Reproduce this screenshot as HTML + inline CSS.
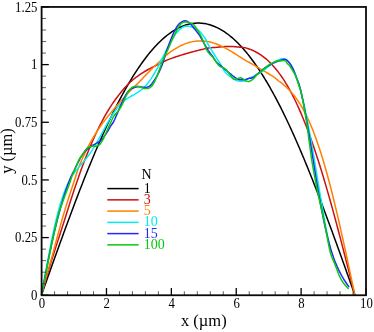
<!DOCTYPE html>
<html><head><meta charset="utf-8"><style>
html,body{margin:0;padding:0;background:#fff;}
svg{display:block;will-change:transform;}
text{font-family:"Liberation Serif",serif;}
</style></head><body>
<svg width="374" height="332" viewBox="0 0 374 332">
<rect width="374" height="332" fill="#fff"/>
<clipPath id="c"><rect x="41.60" y="6.95" width="324.40" height="288.30"/></clipPath>
<g><path d="M41.60 294.70L42.90 291.02L44.21 287.35L45.51 283.67L46.82 280.00L48.12 276.33L49.43 272.67L50.73 269.01L52.04 265.35L53.34 261.70L54.65 258.06L55.95 254.43L57.26 250.80L58.56 247.18L59.87 243.57L61.17 239.98L62.48 236.39L63.78 232.81L65.09 229.25L66.39 225.70L67.70 222.17L69.00 218.65L70.30 215.14L71.61 211.65L72.91 208.18L74.22 204.73L75.52 201.29L76.83 197.87L78.13 194.47L79.44 191.10L80.74 187.74L82.05 184.40L83.35 181.09L84.66 177.79L85.96 174.52L87.27 171.28L88.57 168.06L89.88 164.86L91.18 161.69L92.49 158.54L93.79 155.42L95.10 152.33L96.40 149.27L97.70 146.23L99.01 143.22L100.31 140.24L101.62 137.30L102.92 134.38L104.23 131.49L105.53 128.63L106.84 125.80L108.14 123.01L109.45 120.25L110.75 117.52L112.06 114.82L113.36 112.16L114.67 109.53L115.97 106.94L117.28 104.38L118.58 101.85L119.89 99.36L121.19 96.91L122.50 94.49L123.80 92.11L125.10 89.76L126.41 87.46L127.71 85.19L129.02 82.95L130.32 80.76L131.63 78.60L132.93 76.48L134.24 74.40L135.54 72.36L136.85 70.36L138.15 68.40L139.46 66.47L140.76 64.59L142.07 62.75L143.37 60.94L144.68 59.18L145.98 57.46L147.29 55.77L148.59 54.13L149.90 52.53L151.20 50.97L152.50 49.46L153.81 47.98L155.11 46.54L156.42 45.15L157.72 43.80L159.03 42.49L160.33 41.22L161.64 40.00L162.94 38.81L164.25 37.67L165.55 36.57L166.86 35.52L168.16 34.50L169.47 33.53L170.77 32.60L172.08 31.72L173.38 30.88L174.69 30.08L175.99 29.32L177.30 28.60L178.60 27.93L179.90 27.31L181.21 26.72L182.51 26.18L183.82 25.68L185.12 25.23L186.43 24.81L187.73 24.45L189.04 24.12L190.34 23.84L191.65 23.60L192.95 23.41L194.26 23.25L195.56 23.15L196.87 23.08L198.17 23.06L199.48 23.08L200.78 23.15L202.09 23.25L203.39 23.41L204.70 23.60L206.00 23.84L207.30 24.12L208.61 24.45L209.91 24.81L211.22 25.23L212.52 25.68L213.83 26.18L215.13 26.72L216.44 27.31L217.74 27.93L219.05 28.60L220.35 29.32L221.66 30.08L222.96 30.88L224.27 31.72L225.57 32.60L226.88 33.53L228.18 34.50L229.49 35.52L230.79 36.57L232.10 37.67L233.40 38.81L234.70 40.00L236.01 41.22L237.31 42.49L238.62 43.80L239.92 45.15L241.23 46.54L242.53 47.98L243.84 49.46L245.14 50.97L246.45 52.53L247.75 54.13L249.06 55.77L250.36 57.46L251.67 59.18L252.97 60.94L254.28 62.75L255.58 64.59L256.89 66.47L258.19 68.40L259.49 70.36L260.80 72.36L262.10 74.40L263.41 76.48L264.71 78.60L266.02 80.76L267.32 82.95L268.63 85.19L269.93 87.46L271.24 89.76L272.54 92.11L273.85 94.49L275.15 96.91L276.46 99.36L277.76 101.85L279.07 104.38L280.37 106.94L281.68 109.53L282.98 112.16L284.29 114.82L285.59 117.52L286.89 120.25L288.20 123.01L289.50 125.80L290.81 128.63L292.11 131.49L293.42 134.38L294.72 137.30L296.03 140.24L297.33 143.22L298.64 146.23L299.94 149.27L301.25 152.33L302.55 155.42L303.86 158.54L305.16 161.69L306.47 164.86L307.77 168.06L309.08 171.28L310.38 174.52L311.69 177.79L312.99 181.09L314.29 184.40L315.60 187.74L316.90 191.10L318.21 194.47L319.51 197.87L320.82 201.29L322.12 204.73L323.43 208.18L324.73 211.65L326.04 215.14L327.34 218.65L328.65 222.17L329.95 225.70L331.26 229.25L332.56 232.81L333.87 236.39L335.17 239.98L336.48 243.57L337.78 247.18L339.09 250.80L340.39 254.43L341.69 258.06L343.00 261.70L344.30 265.35L345.61 269.01L346.91 272.67L348.22 276.33L349.52 280.00L350.83 283.67L352.13 287.35L353.44 291.02L354.74 294.70" fill="none" stroke="#000000" stroke-width="1.5" stroke-linejoin="round" stroke-linecap="round"/><path d="M41.60 294.70L42.90 290.02L44.21 285.34L45.53 280.67L46.88 276.01L48.26 271.36L49.66 266.72L51.08 262.11L52.51 257.51L53.96 252.93L55.41 248.38L56.86 243.86L58.31 239.38L59.75 234.92L61.18 230.50L62.59 226.12L63.98 221.79L65.34 217.49L66.68 213.24L67.99 209.04L69.30 204.89L70.60 200.79L71.90 196.75L73.21 192.76L74.51 188.83L75.82 184.96L77.12 181.15L78.43 177.40L79.73 173.72L81.04 170.09L82.34 166.54L83.65 163.05L84.95 159.63L86.26 156.28L87.56 153.00L88.87 149.78L90.17 146.64L91.48 143.57L92.78 140.56L94.09 137.63L95.39 134.77L96.70 131.98L98.00 129.26L99.30 126.61L100.61 124.03L101.91 121.53L103.22 119.09L104.52 116.71L105.83 114.41L107.13 112.18L108.44 110.01L109.74 107.90L111.05 105.86L112.35 103.89L113.62 102.02L114.87 100.24L116.10 98.54L117.30 96.93L118.48 95.39L119.65 93.91L120.81 92.47L121.97 91.07L123.13 89.69L124.29 88.33L125.46 86.99L126.65 85.68L127.86 84.41L129.09 83.19L130.35 82.01L131.63 80.88L132.93 79.78L134.24 78.73L135.54 77.71L136.85 76.73L138.15 75.78L139.46 74.86L140.76 73.98L142.07 73.12L143.37 72.30L144.68 71.50L145.98 70.73L147.29 69.99L148.59 69.27L149.90 68.57L151.20 67.89L152.50 67.23L153.81 66.59L155.11 65.97L156.42 65.35L157.72 64.70L159.03 64.04L160.33 63.37L161.64 62.70L162.94 62.03L164.25 61.38L165.55 60.75L166.86 60.16L168.16 59.60L169.47 59.09L170.77 58.62L172.08 58.16L173.38 57.71L174.69 57.26L175.99 56.83L177.30 56.40L178.60 55.97L179.90 55.55L181.21 55.14L182.51 54.74L183.82 54.34L185.12 53.95L186.43 53.56L187.73 53.18L189.04 52.81L190.34 52.44L191.65 52.07L192.95 51.72L194.26 51.37L195.56 51.02L196.87 50.69L198.17 50.36L199.48 50.03L200.78 49.72L202.09 49.41L203.39 49.11L204.70 48.82L206.00 48.54L207.30 48.27L208.61 48.02L209.91 47.82L211.22 47.69L212.52 47.59L213.83 47.52L215.13 47.45L216.44 47.35L217.74 47.22L219.05 47.06L220.35 46.92L221.66 46.79L222.96 46.68L224.27 46.59L225.57 46.52L226.88 46.47L228.18 46.44L229.49 46.43L230.79 46.45L232.10 46.48L233.40 46.55L234.70 46.63L236.01 46.75L237.31 46.89L238.62 47.06L239.92 47.20L241.23 47.33L242.53 47.47L243.84 47.62L245.14 47.83L246.45 48.11L247.75 48.48L249.06 48.93L250.36 49.41L251.67 49.94L252.97 50.52L254.28 51.13L255.58 51.79L256.89 52.50L258.19 53.26L259.49 54.07L260.80 54.93L262.10 55.84L263.41 56.80L264.71 57.82L266.02 58.90L267.32 60.04L268.63 61.23L269.93 62.49L271.24 63.81L272.54 65.19L273.85 66.64L275.15 68.15L276.46 69.73L277.76 71.38L279.07 73.10L280.37 74.89L281.68 76.75L282.98 78.68L284.29 80.69L285.59 82.78L286.89 84.94L288.20 87.17L289.50 89.49L290.81 91.88L292.11 94.35L293.42 96.90L294.72 99.53L296.03 102.23L297.33 105.02L298.64 107.89L299.94 110.84L301.25 113.87L302.55 116.99L303.86 120.18L305.16 123.45L306.47 126.80L307.77 130.23L309.08 133.74L310.38 137.33L311.69 140.99L312.99 144.74L314.29 148.55L315.60 152.45L316.90 156.41L318.21 160.45L319.51 164.56L320.82 168.73L322.12 172.98L323.43 177.29L324.73 181.67L326.04 186.10L327.34 190.60L328.65 195.16L329.95 199.77L331.26 204.44L332.56 209.16L333.87 213.92L335.17 218.74L336.48 223.60L337.78 228.50L339.09 233.44L340.39 238.41L341.69 243.42L343.00 248.46L344.30 253.53L345.61 258.62L346.91 263.73L348.22 268.87L349.52 274.01L350.83 279.17L352.13 284.34L353.44 289.52L354.74 294.70" fill="none" stroke="#cc1010" stroke-width="1.5" stroke-linejoin="round" stroke-linecap="round"/><path d="M41.60 294.70L42.90 289.43L44.21 284.16L45.58 278.90L47.04 273.67L48.56 268.47L50.09 263.30L51.58 258.17L53.01 253.09L54.34 248.06L55.65 243.09L56.95 238.19L58.26 233.35L59.56 228.59L60.87 223.92L62.17 219.32L63.48 214.82L64.78 210.40L66.09 206.08L67.39 201.86L68.70 197.74L70.00 193.72L71.30 189.81L72.60 186.00L73.81 182.29L74.94 178.69L76.02 175.20L77.10 171.81L78.24 168.53L79.45 165.35L80.74 162.27L82.05 159.29L83.35 156.41L84.66 153.63L85.96 150.94L87.27 148.34L88.57 145.82L89.88 143.39L91.18 141.04L92.49 138.77L93.79 136.57L95.10 134.43L96.40 132.37L97.70 130.36L99.01 128.42L100.31 126.53L101.62 124.68L102.92 122.89L104.23 121.13L105.53 119.42L106.84 117.74L108.14 116.10L109.45 114.48L110.75 112.89L112.06 111.32L113.36 109.78L114.67 108.25L115.97 106.74L117.28 105.24L118.58 103.75L119.89 102.28L121.19 100.81L122.50 99.35L123.80 97.89L125.10 96.44L126.41 95.00L127.71 93.56L129.02 92.12L130.32 90.69L131.63 89.32L132.93 88.03L134.24 86.79L135.54 85.57L136.85 84.35L138.15 83.09L139.46 81.76L140.76 80.37L142.07 78.98L143.37 77.60L144.68 76.23L145.98 74.87L147.29 73.53L148.59 72.19L149.90 70.88L151.20 69.57L152.50 68.29L153.81 67.02L155.11 65.77L156.42 64.54L157.72 63.33L159.03 62.15L160.33 60.99L161.64 59.79L162.94 58.55L164.25 57.28L165.55 56.03L166.86 54.82L168.16 53.68L169.47 52.64L170.77 51.71L172.08 50.81L173.38 49.95L174.69 49.12L175.99 48.33L177.30 47.58L178.60 46.86L179.90 46.18L181.21 45.54L182.51 44.94L183.82 44.38L185.12 43.86L186.43 43.38L187.73 42.94L189.04 42.54L190.34 42.19L191.65 41.88L192.95 41.61L194.26 41.38L195.56 41.20L196.87 41.06L198.17 40.96L199.48 40.91L200.78 40.90L202.09 40.93L203.39 41.01L204.70 41.13L206.00 41.29L207.30 41.49L208.61 41.74L209.91 42.02L211.22 42.34L212.52 42.71L213.83 43.11L215.13 43.54L216.44 44.02L217.74 44.52L219.05 45.06L220.35 45.64L221.66 46.24L222.96 46.87L224.27 47.53L225.57 48.21L226.88 48.92L228.18 49.64L229.49 50.39L230.79 51.16L232.10 51.94L233.40 52.74L234.70 53.54L236.01 54.36L237.31 55.19L238.62 56.02L239.92 56.86L241.23 57.70L242.53 58.55L243.84 59.39L245.19 60.23L246.65 61.07L248.20 61.90L249.77 62.73L251.32 63.56L252.80 64.38L254.17 65.19L255.48 65.99L256.78 66.79L258.09 67.58L259.39 68.36L260.69 69.14L262.00 69.91L263.30 70.68L264.61 71.45L265.91 72.21L267.22 72.98L268.52 73.75L269.83 74.52L271.13 75.30L272.44 76.09L273.66 76.89L274.77 77.71L275.82 78.55L276.86 79.42L277.94 80.31L279.10 81.23L280.37 82.19L281.68 83.19L282.98 84.23L284.29 85.32L285.59 86.46L286.89 87.66L288.20 88.92L289.50 90.25L290.81 91.65L292.11 93.13L293.42 94.69L294.72 96.33L296.03 98.07L297.33 99.90L298.64 101.83L299.94 103.86L301.25 106.00L302.55 108.24L303.86 110.61L305.16 113.09L306.47 115.69L307.77 118.41L309.08 121.26L310.38 124.24L311.69 127.35L312.99 130.59L314.29 133.96L315.60 137.46L316.90 141.10L318.21 144.88L319.51 148.79L320.82 152.83L322.12 157.01L323.43 161.31L324.73 165.75L326.04 170.32L327.34 175.01L328.65 179.82L329.95 184.75L331.26 189.80L332.56 194.96L333.87 200.23L335.17 205.60L336.48 211.07L337.78 216.64L339.09 222.29L340.39 228.02L341.69 233.83L343.00 239.72L344.30 245.66L345.61 251.66L346.91 257.72L348.22 263.81L349.52 269.95L350.83 276.11L352.13 282.29L353.44 288.49L354.74 294.70" fill="none" stroke="#ff8000" stroke-width="1.5" stroke-linejoin="round" stroke-linecap="round"/><path d="M41.60 294.70L42.81 287.84L44.01 281.01L45.22 274.24L46.42 267.56L47.63 260.99L48.84 254.56L50.04 248.29L51.25 242.21L52.45 236.34L53.66 230.69L54.86 225.29L56.07 220.13L57.28 215.24L58.48 210.61L59.69 206.26L60.89 202.18L62.10 198.38L63.30 194.83L64.51 191.55L65.72 188.52L66.92 185.72L68.13 183.14L69.33 180.77L70.54 178.59L71.75 176.58L72.95 174.72L74.16 172.99L75.36 171.36L76.57 169.83L77.78 168.36L78.98 166.94L80.19 165.55L81.39 164.17L82.60 162.78L83.80 161.38L85.01 159.93L86.22 158.45L87.42 156.90L88.63 155.30L89.83 153.63L91.04 151.88L92.25 150.06L93.45 148.17L94.66 146.21L95.86 144.19L97.07 142.11L98.27 139.97L99.48 137.79L100.69 135.59L101.89 133.36L103.10 131.12L104.30 128.88L105.51 126.65L106.72 124.46L107.92 122.30L109.13 120.18L110.33 118.13L111.54 116.15L112.74 114.25L113.95 112.43L115.16 110.70L116.36 109.07L117.57 107.53L118.77 106.10L119.98 104.76L121.19 103.52L122.39 102.38L123.60 101.32L124.80 100.35L126.01 99.45L127.21 98.62L128.42 97.84L129.63 97.11L130.83 96.41L132.04 95.73L133.24 95.06L134.45 94.38L135.66 93.69L136.86 92.96L138.07 92.20L139.27 91.37L140.48 90.49L141.68 89.52L142.89 88.48L144.10 87.34L145.30 86.10L146.51 84.76L147.71 83.32L148.92 81.77L150.12 80.10L151.33 78.34L152.54 76.46L153.74 74.49L154.95 72.43L156.15 70.28L157.36 68.05L158.57 65.76L159.77 63.41L160.98 61.03L162.18 58.61L163.39 56.18L164.59 53.75L165.80 51.34L167.01 48.95L168.21 46.62L169.42 44.34L170.62 42.15L171.83 40.04L173.04 38.05L174.24 36.17L175.45 34.42L176.65 32.82L177.86 31.37L179.06 30.09L180.27 28.97L181.48 28.04L182.68 27.28L183.89 26.72L185.09 26.34L186.30 26.15L187.52 26.15L188.95 26.34L190.79 26.71L192.82 27.26L194.70 27.98L196.36 28.87L197.94 29.91L199.38 31.09L200.65 32.41L201.86 33.86L203.06 35.41L204.27 37.07L205.45 38.81L206.37 40.62L207.17 42.50L208.11 44.42L209.30 46.37L210.50 48.35L211.71 50.33L212.92 52.30L214.12 54.26L215.33 56.19L216.53 58.09L217.74 59.94L218.95 61.73L220.13 63.45L221.15 65.11L222.03 66.69L222.80 68.18L223.54 69.59L224.30 70.91L225.15 72.14L226.14 73.27L227.30 74.31L228.50 75.25L229.71 76.10L230.92 76.85L232.12 77.51L233.33 78.10L234.53 79.04L235.74 80.11L236.94 80.75L238.15 80.98L239.36 81.12L240.56 81.19L241.77 81.19L242.97 81.11L244.18 80.96L245.39 80.72L246.59 79.96L247.80 78.95L249.00 78.24L250.21 77.78L251.41 77.27L252.62 76.70L253.83 76.08L255.03 75.40L256.24 74.68L257.44 74.01L258.65 73.42L259.86 72.83L261.06 72.19L262.27 71.42L263.47 70.50L264.68 69.54L265.88 68.56L267.09 67.57L268.30 66.59L269.50 65.62L270.71 64.68L271.91 63.77L273.12 62.91L274.33 62.11L275.53 61.39L276.74 60.76L277.94 60.19L279.15 59.62L280.36 59.11L281.56 58.75L282.77 58.64L283.97 58.84L285.18 59.33L286.38 60.05L287.59 61.02L288.80 62.25L290.00 63.76L291.21 65.56L292.41 67.66L293.62 70.08L294.82 72.82L296.03 75.90L297.24 79.30L298.44 83.04L299.65 87.12L300.85 91.53L302.06 96.26L303.27 101.32L304.47 106.68L305.68 112.33L306.88 118.26L308.09 124.44L309.30 130.86L310.50 137.48L311.71 144.30L312.91 151.26L314.12 158.35L315.32 165.54L316.53 172.78L317.74 180.05L318.94 187.31L320.15 194.53L321.35 201.67L322.56 208.71L323.76 215.59L324.97 222.31L326.18 228.81L327.38 235.08L328.59 241.09L329.79 246.82L331.00 252.24" fill="none" stroke="#00eef4" stroke-width="1.5" stroke-linejoin="round" stroke-linecap="round"/><path d="M41.60 294.70L42.88 287.99L44.16 281.32L45.44 274.70L46.72 268.16L48.00 261.73L49.28 255.43L50.56 249.28L51.84 243.29L53.12 237.49L54.40 231.87L55.68 226.46L56.96 221.25L58.24 216.24L59.52 211.44L60.80 206.83L62.08 202.42L63.36 198.20L64.64 194.17L65.92 190.30L67.20 186.61L68.48 183.08L69.76 179.71L71.04 176.49L72.59 173.42L74.10 170.50L75.38 167.74L76.66 165.12L77.94 162.67L79.21 160.37L80.17 158.23L81.28 156.26L82.56 154.45L83.84 152.80L85.12 151.32L86.40 149.99L87.68 148.81L88.96 147.76L90.24 146.83L91.52 146.01L92.80 145.26L94.08 144.56L95.36 143.89L96.64 143.21L97.92 142.49L99.20 141.71L100.48 140.83L101.76 139.83L102.77 138.68L103.44 137.35L104.60 135.83L105.88 134.12L107.16 132.19L108.44 130.06L109.72 127.73L111.25 125.22L113.14 122.54L114.56 119.73L115.84 116.81L117.12 113.83L118.40 110.81L119.68 107.81L120.96 104.86L122.24 102.01L123.52 99.30L124.80 96.76L126.08 94.43L127.36 92.35L128.64 90.75L129.92 89.66L131.20 88.92L132.48 88.35L133.76 87.78L135.04 87.25L136.32 86.93L137.60 86.78L138.88 86.78L140.16 86.89L141.44 87.05L142.72 87.22L144.00 87.36L145.28 87.41L146.56 87.34L147.84 87.09L149.12 86.52L150.40 85.43L151.68 83.93L152.96 82.17L154.24 80.32L155.52 78.45L156.80 76.35L158.08 73.97L159.36 71.33L160.64 68.46L161.92 65.38L163.11 62.13L164.14 58.74L165.14 55.27L166.25 51.75L167.52 48.24L168.80 44.77L170.08 41.40L171.36 38.17L172.64 35.12L173.92 32.29L175.20 29.71L176.48 27.43L177.76 25.46L179.15 23.82L180.69 22.54L182.24 21.61L183.67 21.05L184.96 20.86L186.24 21.02L187.52 21.51L188.80 22.34L190.08 23.46L191.36 24.85L192.64 26.48L194.01 28.32L195.64 30.33L197.42 32.48L199.11 34.72L200.54 37.02L201.82 39.34L203.10 41.66L204.38 43.94L205.66 46.16L206.94 48.29L208.22 50.33L209.50 52.25L210.78 54.05L212.06 55.74L213.27 57.31L214.20 58.77L214.99 60.12L215.85 61.39L216.96 62.59L218.24 63.73L219.52 64.83L220.80 65.91L222.08 66.96L223.36 68.02L224.64 69.08L225.92 70.15L227.20 71.23L228.48 72.31L229.76 73.39L231.04 74.45L232.32 75.48L233.60 76.47L234.88 77.40L236.16 78.25L237.44 78.99L238.72 79.61L240.00 79.85L241.28 79.58L242.56 79.63L243.84 79.65L245.12 79.51L246.40 79.20L247.68 78.74L249.16 78.36L251.13 78.25L252.97 77.55L254.30 76.61L255.58 75.60L256.86 74.53L258.14 73.44L259.42 72.35L260.70 71.33L261.93 70.48L262.65 69.73L263.24 69.01L264.32 68.24L265.60 67.39L266.88 66.57L268.16 65.80L269.44 65.08L270.72 64.40L272.00 63.75L273.28 63.14L274.56 62.56L275.84 62.01L277.12 61.50L278.40 61.05L279.68 60.63L280.96 60.16L282.24 59.71L283.52 59.37L284.80 59.29L286.08 59.56L287.03 60.16L287.78 61.05L288.92 62.29L290.20 63.90L291.48 65.94L292.76 68.42L294.04 71.38L295.32 74.84L296.82 78.81L298.65 83.29L300.16 88.28L301.44 93.76L302.72 99.71L304.00 106.10L305.28 112.89L306.56 120.02L307.84 127.44L309.12 135.11L310.40 142.94L311.68 150.89L312.96 158.89L314.24 166.87L315.52 174.78L316.80 182.55L318.08 190.15L319.36 197.51L320.64 204.61L321.92 211.41L323.20 217.89L324.48 224.02L325.76 229.80L327.04 235.22L328.32 240.29L329.60 245.01L330.88 249.39L332.16 253.44L333.44 257.20L334.72 260.67L336.00 263.88L337.28 266.86L338.56 269.62L339.84 272.20L341.12 274.61L342.40 276.87L343.68 279.01L344.96 281.05L346.24 283.00L347.52 284.87L348.80 286.69" fill="none" stroke="#2626ff" stroke-width="1.5" stroke-linejoin="round" stroke-linecap="round"/><path d="M41.60 294.70C43.42 285.58 49.58 253.70 52.50 240.00C55.42 226.30 56.35 221.67 59.10 212.50C61.85 203.33 66.78 191.28 69.00 185.00C71.22 178.72 71.17 178.02 72.42 174.80C73.67 171.58 75.42 168.18 76.50 165.70C77.58 163.22 77.93 161.70 78.90 159.90C79.87 158.10 81.20 156.57 82.30 154.90C83.40 153.23 84.53 151.15 85.52 149.90C86.50 148.65 87.07 148.02 88.20 147.40C89.33 146.78 90.92 146.37 92.30 146.15C93.68 145.94 95.25 146.40 96.50 146.10C97.75 145.80 98.75 145.36 99.80 144.35C100.85 143.33 101.93 141.56 102.80 140.00C103.67 138.44 104.23 136.70 105.00 135.00C105.77 133.30 106.43 131.92 107.40 129.80C108.37 127.68 109.68 124.65 110.80 122.30C111.92 119.95 112.92 117.50 114.10 115.70C115.28 113.90 116.61 113.17 117.88 111.50C119.14 109.83 120.51 107.90 121.70 105.70C122.88 103.50 123.90 100.65 125.00 98.30C126.10 95.95 127.18 93.39 128.30 91.60C129.42 89.81 130.45 88.42 131.70 87.57C132.95 86.72 134.53 86.68 135.80 86.50C137.07 86.32 138.14 86.25 139.31 86.50C140.48 86.75 141.67 87.63 142.80 87.98C143.93 88.33 144.98 88.63 146.10 88.60C147.22 88.57 148.35 88.48 149.50 87.80C150.65 87.12 151.82 86.25 153.00 84.50C154.18 82.75 155.45 80.02 156.60 77.30C157.75 74.58 158.72 71.33 159.90 68.20C161.08 65.07 162.31 61.62 163.66 58.50C165.01 55.38 166.64 52.50 168.00 49.50C169.36 46.50 170.52 43.35 171.80 40.50C173.08 37.65 174.52 34.72 175.70 32.40C176.88 30.08 177.91 28.13 178.89 26.60C179.88 25.07 180.61 23.95 181.61 23.20C182.62 22.45 183.73 22.23 184.94 22.10C186.15 21.97 187.39 21.93 188.88 22.40C190.37 22.87 192.46 23.65 193.86 24.90C195.27 26.15 196.11 28.05 197.30 29.90C198.49 31.75 199.88 33.82 201.00 36.00C202.12 38.18 203.00 40.58 204.00 43.00C205.00 45.42 205.98 48.58 207.00 50.50C208.02 52.42 209.15 53.42 210.10 54.50C211.05 55.58 211.89 56.08 212.70 57.00C213.51 57.92 214.24 58.97 214.97 60.00C215.70 61.03 216.25 62.12 217.07 63.20C217.89 64.28 218.88 65.77 219.90 66.50C220.92 67.23 222.10 67.00 223.20 67.60C224.30 68.20 225.38 68.95 226.50 70.10C227.62 71.25 228.78 73.02 229.90 74.49C231.02 75.96 232.23 78.08 233.20 78.90C234.17 79.72 234.88 79.48 235.70 79.40C236.52 79.32 237.28 78.67 238.10 78.40C238.92 78.13 239.77 77.72 240.60 77.80C241.43 77.88 242.13 78.35 243.10 78.90C244.07 79.45 245.28 80.72 246.40 81.10C247.52 81.48 248.67 81.55 249.80 81.20C250.93 80.85 252.08 79.98 253.20 79.00C254.32 78.02 255.37 76.41 256.50 75.30C257.63 74.19 258.87 73.29 260.00 72.35C261.13 71.41 262.20 70.62 263.30 69.68C264.40 68.73 265.50 67.61 266.60 66.70C267.70 65.79 268.80 64.88 269.90 64.20C271.00 63.52 272.10 63.10 273.20 62.60C274.30 62.10 275.38 61.48 276.50 61.20C277.62 60.92 278.78 61.02 279.90 60.90C281.02 60.78 282.26 60.49 283.20 60.47C284.14 60.45 284.87 60.33 285.52 60.78C286.17 61.24 286.42 62.38 287.10 63.20C287.78 64.02 288.74 64.58 289.60 65.70C290.46 66.82 291.24 68.23 292.24 69.90C293.24 71.57 294.62 73.50 295.60 75.70C296.58 77.90 297.27 80.67 298.10 83.10C298.93 85.53 299.90 87.77 300.60 90.30C301.30 92.83 301.73 95.58 302.30 98.30C302.87 101.02 303.43 103.57 304.00 106.60C304.57 109.63 305.15 113.18 305.70 116.50C306.25 119.82 306.83 123.18 307.30 126.50C307.77 129.82 308.10 133.32 308.50 136.40C308.90 139.48 309.20 141.35 309.70 145.00C310.20 148.65 310.78 153.60 311.50 158.30C312.22 163.00 313.17 168.50 314.00 173.20C314.83 177.90 315.60 182.03 316.50 186.50C317.40 190.97 318.28 194.98 319.40 200.00C320.52 205.02 322.02 211.07 323.20 216.60C324.38 222.13 325.57 228.38 326.50 233.20C327.43 238.02 328.03 241.87 328.80 245.50C329.57 249.13 330.04 251.77 331.10 255.00C332.17 258.23 333.83 261.45 335.20 264.90C336.57 268.35 337.92 272.67 339.30 275.70C340.68 278.73 342.02 280.98 343.50 283.10C344.98 285.22 347.42 287.52 348.20 288.40" fill="none" stroke="#0cc80c" stroke-width="1.5" stroke-linejoin="round" stroke-linecap="round"/></g>
<line x1="41.60" y1="295.25" x2="48.80" y2="295.25" stroke="#000" stroke-width="1.3"/><line x1="41.60" y1="283.72" x2="46.00" y2="283.72" stroke="#333" stroke-width="0.8"/><line x1="41.60" y1="272.19" x2="46.00" y2="272.19" stroke="#333" stroke-width="0.8"/><line x1="41.60" y1="260.65" x2="46.00" y2="260.65" stroke="#333" stroke-width="0.8"/><line x1="41.60" y1="249.12" x2="46.00" y2="249.12" stroke="#333" stroke-width="0.8"/><line x1="41.60" y1="237.59" x2="48.80" y2="237.59" stroke="#000" stroke-width="1.3"/><line x1="41.60" y1="226.06" x2="46.00" y2="226.06" stroke="#333" stroke-width="0.8"/><line x1="41.60" y1="214.53" x2="46.00" y2="214.53" stroke="#333" stroke-width="0.8"/><line x1="41.60" y1="202.99" x2="46.00" y2="202.99" stroke="#333" stroke-width="0.8"/><line x1="41.60" y1="191.46" x2="46.00" y2="191.46" stroke="#333" stroke-width="0.8"/><line x1="41.60" y1="179.93" x2="48.80" y2="179.93" stroke="#000" stroke-width="1.3"/><line x1="41.60" y1="168.40" x2="46.00" y2="168.40" stroke="#333" stroke-width="0.8"/><line x1="41.60" y1="156.87" x2="46.00" y2="156.87" stroke="#333" stroke-width="0.8"/><line x1="41.60" y1="145.33" x2="46.00" y2="145.33" stroke="#333" stroke-width="0.8"/><line x1="41.60" y1="133.80" x2="46.00" y2="133.80" stroke="#333" stroke-width="0.8"/><line x1="41.60" y1="122.27" x2="48.80" y2="122.27" stroke="#000" stroke-width="1.3"/><line x1="41.60" y1="110.74" x2="46.00" y2="110.74" stroke="#333" stroke-width="0.8"/><line x1="41.60" y1="99.21" x2="46.00" y2="99.21" stroke="#333" stroke-width="0.8"/><line x1="41.60" y1="87.67" x2="46.00" y2="87.67" stroke="#333" stroke-width="0.8"/><line x1="41.60" y1="76.14" x2="46.00" y2="76.14" stroke="#333" stroke-width="0.8"/><line x1="41.60" y1="64.61" x2="48.80" y2="64.61" stroke="#000" stroke-width="1.3"/><line x1="41.60" y1="53.08" x2="46.00" y2="53.08" stroke="#333" stroke-width="0.8"/><line x1="41.60" y1="41.55" x2="46.00" y2="41.55" stroke="#333" stroke-width="0.8"/><line x1="41.60" y1="30.01" x2="46.00" y2="30.01" stroke="#333" stroke-width="0.8"/><line x1="41.60" y1="18.48" x2="46.00" y2="18.48" stroke="#333" stroke-width="0.8"/><line x1="41.60" y1="6.95" x2="48.80" y2="6.95" stroke="#000" stroke-width="1.3"/><line x1="41.60" y1="295.25" x2="41.60" y2="288.05" stroke="#000" stroke-width="1.3"/><line x1="54.58" y1="295.25" x2="54.58" y2="291.25" stroke="#333" stroke-width="0.8"/><line x1="67.55" y1="295.25" x2="67.55" y2="291.25" stroke="#333" stroke-width="0.8"/><line x1="80.53" y1="295.25" x2="80.53" y2="291.25" stroke="#333" stroke-width="0.8"/><line x1="93.50" y1="295.25" x2="93.50" y2="291.25" stroke="#333" stroke-width="0.8"/><line x1="106.48" y1="295.25" x2="106.48" y2="288.05" stroke="#000" stroke-width="1.3"/><line x1="119.46" y1="295.25" x2="119.46" y2="291.25" stroke="#333" stroke-width="0.8"/><line x1="132.43" y1="295.25" x2="132.43" y2="291.25" stroke="#333" stroke-width="0.8"/><line x1="145.41" y1="295.25" x2="145.41" y2="291.25" stroke="#333" stroke-width="0.8"/><line x1="158.38" y1="295.25" x2="158.38" y2="291.25" stroke="#333" stroke-width="0.8"/><line x1="171.36" y1="295.25" x2="171.36" y2="288.05" stroke="#000" stroke-width="1.3"/><line x1="184.34" y1="295.25" x2="184.34" y2="291.25" stroke="#333" stroke-width="0.8"/><line x1="197.31" y1="295.25" x2="197.31" y2="291.25" stroke="#333" stroke-width="0.8"/><line x1="210.29" y1="295.25" x2="210.29" y2="291.25" stroke="#333" stroke-width="0.8"/><line x1="223.26" y1="295.25" x2="223.26" y2="291.25" stroke="#333" stroke-width="0.8"/><line x1="236.24" y1="295.25" x2="236.24" y2="288.05" stroke="#000" stroke-width="1.3"/><line x1="249.22" y1="295.25" x2="249.22" y2="291.25" stroke="#333" stroke-width="0.8"/><line x1="262.19" y1="295.25" x2="262.19" y2="291.25" stroke="#333" stroke-width="0.8"/><line x1="275.17" y1="295.25" x2="275.17" y2="291.25" stroke="#333" stroke-width="0.8"/><line x1="288.14" y1="295.25" x2="288.14" y2="291.25" stroke="#333" stroke-width="0.8"/><line x1="301.12" y1="295.25" x2="301.12" y2="288.05" stroke="#000" stroke-width="1.3"/><line x1="314.10" y1="295.25" x2="314.10" y2="291.25" stroke="#333" stroke-width="0.8"/><line x1="327.07" y1="295.25" x2="327.07" y2="291.25" stroke="#333" stroke-width="0.8"/><line x1="340.05" y1="295.25" x2="340.05" y2="291.25" stroke="#333" stroke-width="0.8"/><line x1="353.02" y1="295.25" x2="353.02" y2="291.25" stroke="#333" stroke-width="0.8"/><line x1="366.00" y1="295.25" x2="366.00" y2="288.05" stroke="#000" stroke-width="1.3"/>
<rect x="41.60" y="6.95" width="324.40" height="288.30" fill="none" stroke="#0a0a0a" stroke-width="1.8"/>
<text transform="translate(37.4,299.80) scale(0.85,1)" text-anchor="end" font-size="15">0</text><text transform="translate(37.4,242.20) scale(0.85,1)" text-anchor="end" font-size="15">0.25</text><text transform="translate(37.4,184.60) scale(0.85,1)" text-anchor="end" font-size="15">0.5</text><text transform="translate(37.4,127.00) scale(0.85,1)" text-anchor="end" font-size="15">0.75</text><text transform="translate(37.4,69.40) scale(0.85,1)" text-anchor="end" font-size="15">1</text><text transform="translate(37.4,11.80) scale(0.85,1)" text-anchor="end" font-size="15">1.25</text><text transform="translate(41.90,308.2) scale(0.85,1)" text-anchor="middle" font-size="15">0</text><text transform="translate(106.80,308.2) scale(0.85,1)" text-anchor="middle" font-size="15">2</text><text transform="translate(171.70,308.2) scale(0.85,1)" text-anchor="middle" font-size="15">4</text><text transform="translate(236.60,308.2) scale(0.85,1)" text-anchor="middle" font-size="15">6</text><text transform="translate(301.50,308.2) scale(0.85,1)" text-anchor="middle" font-size="15">8</text><text transform="translate(366.40,308.2) scale(0.85,1)" text-anchor="middle" font-size="15">10</text><text x="203.8" y="325.6" text-anchor="middle" font-size="16.5">x (µm)</text><text transform="translate(11.6,151) rotate(-90)" text-anchor="middle" font-size="16.5">y (µm)</text>
<text x="141.5" y="178.5" font-size="14" fill="#000">N</text><line x1="107.3" y1="188.60" x2="138.6" y2="188.60" stroke="#000000" stroke-width="1.5"/><text x="143.8" y="192.50" font-size="14" fill="#000000">1</text><line x1="107.3" y1="199.85" x2="138.6" y2="199.85" stroke="#cc1010" stroke-width="1.5"/><text x="143.8" y="203.75" font-size="14" fill="#cc1010">3</text><line x1="107.3" y1="211.10" x2="138.6" y2="211.10" stroke="#ff8000" stroke-width="1.5"/><text x="143.8" y="215.00" font-size="14" fill="#ff8000">5</text><line x1="107.3" y1="222.35" x2="138.6" y2="222.35" stroke="#00eef4" stroke-width="1.5"/><text x="143.8" y="226.25" font-size="14" fill="#00eef4">10</text><line x1="107.3" y1="233.60" x2="138.6" y2="233.60" stroke="#2626ff" stroke-width="1.5"/><text x="143.8" y="237.50" font-size="14" fill="#2626ff">15</text><line x1="107.3" y1="244.85" x2="138.6" y2="244.85" stroke="#0cc80c" stroke-width="1.5"/><text x="143.8" y="248.75" font-size="14" fill="#0cc80c">100</text>
</svg>
</body></html>
